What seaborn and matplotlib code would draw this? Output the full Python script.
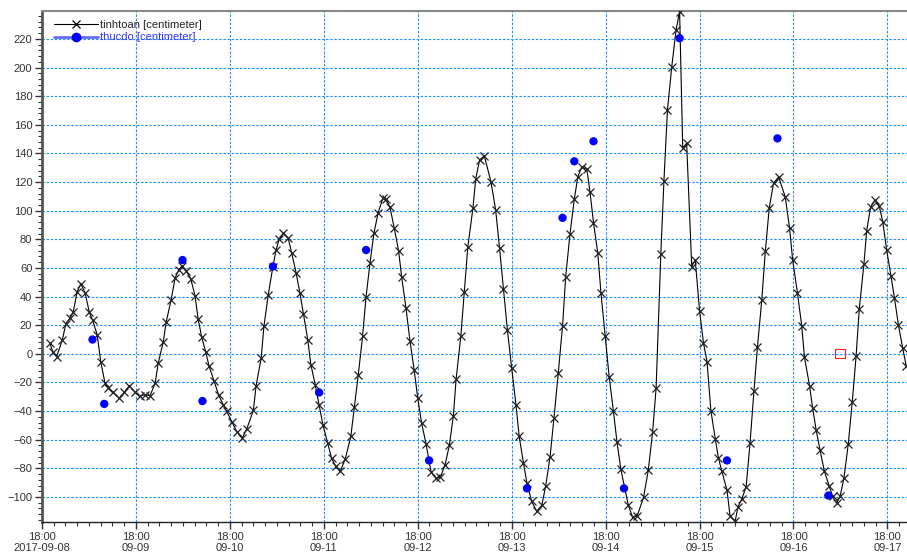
import pandas as pd
import matplotlib
matplotlib.use("Agg")
import matplotlib.pyplot as plt
import matplotlib.dates as mdates
from matplotlib.ticker import MultipleLocator
from matplotlib.lines import Line2D
import seaborn as sns

start = pd.Timestamp("2017-09-08 18:00")

# computed water level (hours after start, centimeter)
tinhtoan_hours = [
    2.0, 2.7, 3.75, 5.2, 6.1, 7.2, 8.0, 9.0, 9.9, 11.0, 12.1, 12.95, 14.1, 15.0,
    16.1, 16.9, 18.1, 19.7, 21.0, 22.3, 23.8, 25.0, 26.3, 27.6, 28.9, 29.7, 31.0,
    31.7, 33.0, 34.0, 34.9, 35.8, 36.8, 38.0, 39.1, 39.9, 40.8, 41.8, 42.7, 44.0,
    45.1, 46.3, 47.2, 48.5, 49.8, 51.2, 52.3, 54.0, 54.7, 56.0, 56.7, 57.8, 59.0,
    59.8, 60.6, 61.7, 62.9, 63.8, 64.9, 65.9, 66.8, 67.9, 68.7, 69.8, 70.8, 71.8,
    73.0, 74.0, 75.0, 76.2, 77.5, 78.9, 79.8, 80.8, 81.9, 82.8, 83.8, 84.8, 85.9,
    87.1, 87.9, 88.9, 90.0, 91.1, 91.9, 93.0, 94.0, 95.1, 96.0, 97.0, 98.1, 99.4,
    100.7, 101.8, 103.0, 104.1, 105.1, 105.8, 107.0, 107.9, 108.8, 110.1, 110.8,
    111.8, 113.0, 114.7, 115.9, 116.9, 117.9, 118.9, 120.0, 121.1, 121.9, 123.0,
    123.9, 125.1, 126.4, 127.7, 128.7, 129.8, 130.8, 131.9, 133.0, 133.8, 134.9,
    136.0, 136.9, 137.9, 139.2, 140.0, 140.9, 142.0, 142.8, 143.9, 144.9, 146.0,
    146.9, 147.9, 149.8, 150.9, 152.1, 153.7, 154.9, 156.0, 156.9, 158.1, 158.9,
    159.8, 160.9, 162.0, 162.9, 163.7, 164.7, 166.0, 166.9, 168.0, 169.0, 169.9,
    170.9, 172.0, 172.8, 173.7, 175.0, 175.8, 177.1, 177.8, 178.8, 179.9, 180.9,
    181.9, 182.8, 183.9, 184.8, 185.8, 186.9, 188.2, 189.9, 191.0, 191.8, 193.0,
    194.1, 194.8, 196.1, 196.9, 197.8, 198.8, 199.9, 201.1, 202.0, 203.0, 203.9,
    204.9, 206.0, 207.0, 208.0, 208.8, 210.0, 210.7, 211.7, 212.8, 213.9, 214.8,
    215.8, 216.9, 217.8, 218.8, 219.9, 220.8,
]
tinhtoan_cm = [
    7.9, 1.6, -1.9, 9.8, 21.0, 25.0, 29.5, 43.5, 48.9, 42.8, 28.9, 23.3, 13.3, -5.4,
    -20.5, -24.0, -27.0, -31.0, -27.0, -22.3, -27.0, -29.3, -28.6, -29.3, -20.5, -6.5, 8.6,
    21.9, 37.7, 52.9, 58.5, 61.5, 58.0, 52.5, 40.5, 24.2, 11.6, 1.6, -8.8, -19.3,
    -28.6, -35.6, -40.3, -47.5, -54.5, -58.5, -52.6, -39.6, -22.3, -3.0, 19.1, 41.2, 61.0,
    72.6, 80.1, 84.3, 80.8, 70.3, 56.8, 42.4, 27.9, 9.8, -7.7, -21.6, -35.6, -50.0,
    -62.6, -73.0, -78.5, -82.2, -73.2, -57.7, -37.2, -14.7, 12.1, 40.0, 63.3, 84.3, 98.7,
    108.7, 108.0, 102.4, 87.8, 72.1, 53.5, 31.9, 9.3, -11.6, -31.0, -48.6, -62.8, -82.5,
    -87.0, -86.0, -77.5, -63.5, -43.3, -17.7, 12.1, 43.1, 74.9, 101.7, 122.0,
    135.5, 138.3, 120.3, 100.6, 73.8, 45.2, 16.8, -10.0, -35.6, -57.5, -76.1,
    -90.3, -103.1, -110.1, -105.8, -92.2, -72.0, -44.9, -13.5, 19.6, 54.0, 83.8,
    108.0, 123.8, 130.4, 129.0, 113.3, 91.7, 70.3, 42.8, 12.1, -15.9, -40.3,
    -61.5, -80.8, -105.8, -114.3, -113.0, -100.2, -81.4, -54.8, -24.0, 69.6, 120.8,
    170.4, 200.6, 226.3, 239.0, 143.6, 147.1, 61.0, 65.6, 30.0, 7.5, -5.4,
    -39.8, -59.2, -72.5, -82.2, -95.0, -113.5, -117.0, -107.0, -101.5, -92.8, -62.4,
    -25.8, 5.1, 37.7, 71.7, 101.7, 119.2, 123.6, 109.6, 87.8, 65.2, 42.8,
    19.6, -2.3, -22.3, -38.0, -53.5, -67.5, -82.2, -92.2, -99.6, -104.3, -99.6,
    -86.8, -62.8, -34.0, -1.4, 31.2, 62.8, 86.1, 102.4, 107.5, 103.4, 92.4,
    72.6, 54.5, 38.9, 20.3, 4.0, -8.4,
]

# measured water level (hours after start, centimeter)
thucdo_hours = [12.9, 15.9, 35.9, 41.0, 59.0, 70.8, 82.8, 98.9, 123.9,
                133.0, 136.0, 140.9, 148.7, 162.9, 175.0, 187.9, 200.9]
thucdo_cm = [10.0, -35.0, 65.5, -33.0, 61.0, -27.0, 72.5, -74.5, -94.0,
             95.0, 134.5, 148.5, -94.0, 220.5, -74.5, 150.5, -99.0]

# single flagged point
flag_hours = [203.9]
flag_cm = [0.0]

y_ticks = list(range(-100, 221, 20))
x_tick_labels = ["18:00\n2017-09-08", "18:00\n09-09", "18:00\n09-10", "18:00\n09-11",
                 "18:00\n09-12", "18:00\n09-13", "18:00\n09-14", "18:00\n09-15",
                 "18:00\n09-16", "18:00\n09-17"]
legend_labels = ["tinhtoan [centimeter]", "thucdo [centimeter]"]

sns.set_theme(style="white")
plt.rcParams["font.family"] = ["Liberation Sans", "DejaVu Sans"]

df_t = pd.DataFrame({"time": start + pd.to_timedelta(tinhtoan_hours, unit="h"),
                     "cm": tinhtoan_cm})
df_m = pd.DataFrame({"time": start + pd.to_timedelta(thucdo_hours, unit="h"),
                     "cm": thucdo_cm})
df_f = pd.DataFrame({"time": start + pd.to_timedelta(flag_hours, unit="h"),
                     "cm": flag_cm})

fig = plt.figure(figsize=(9.07, 5.57), dpi=100)
ax = fig.add_axes([42 / 907, 35 / 557, 865 / 907, 511 / 557])

sns.lineplot(data=df_t, x="time", y="cm", ax=ax, color="black", linewidth=0.8,
             marker="x", markersize=6, markeredgewidth=0.9, markeredgecolor="#222222",
             estimator=None, sort=False, legend=False, zorder=3)
sns.scatterplot(data=df_m, x="time", y="cm", ax=ax, color="#0000ff", s=36,
                edgecolor="none", legend=False, zorder=4)
sns.scatterplot(data=df_f, x="time", y="cm", ax=ax, marker="s", s=45,
                facecolors="none", edgecolor="#ff2020", linewidth=0.8,
                legend=False, zorder=4)

day_ticks = [start + pd.Timedelta(days=i) for i in range(len(x_tick_labels))]
ax.set_xlim(start, start + pd.Timedelta(hours=221.0))
ax.set_ylim(-117.5, 239.5)
ax.set_xticks(day_ticks)
ax.set_xticklabels(x_tick_labels)
ax.xaxis.set_minor_locator(mdates.HourLocator(byhour=range(0, 24, 3)))
ax.set_yticks(y_ticks)
ax.yaxis.set_minor_locator(MultipleLocator(4))
ax.set_xlabel("")
ax.set_ylabel("")

ax.grid(True, which="major", color="#1E90FF", linestyle=(0, (2.2, 1.5)), linewidth=0.8)
ax.set_axisbelow(True)

ax.spines["right"].set_visible(False)
ax.spines["left"].set_color("#555555")
ax.spines["left"].set_linewidth(2.0)
ax.spines["top"].set_color("#888888")
ax.spines["top"].set_linewidth(1.5)
ax.spines["bottom"].set_color("#222222")
ax.spines["bottom"].set_linewidth(1.0)

ax.tick_params(axis="both", which="major", direction="out", length=5, width=1,
               color="#333333", labelsize=8, labelcolor="#333333", pad=2,
               left=True, bottom=True)
ax.tick_params(axis="both", which="minor", direction="out", length=3, width=0.8,
               color="#333333", left=True, bottom=True)

h1 = Line2D([], [], color="black", lw=0.8, marker="x", markersize=6, mew=0.9)
h2 = Line2D([], [], color="#6a6aff", lw=2, marker="o", markersize=6,
            mfc="#0000ff", mec="#0000ff")
leg = ax.legend([h1, h2], legend_labels, loc="upper left",
                bbox_to_anchor=(0.0139, 0.983), frameon=False, fontsize=8,
                handlelength=4, handletextpad=0.1, borderpad=0, borderaxespad=0,
                labelspacing=0.25)
leg.get_texts()[0].set_color("#222222")
leg.get_texts()[1].set_color("#3333ff")

fig.savefig("out.png", dpi=100)
